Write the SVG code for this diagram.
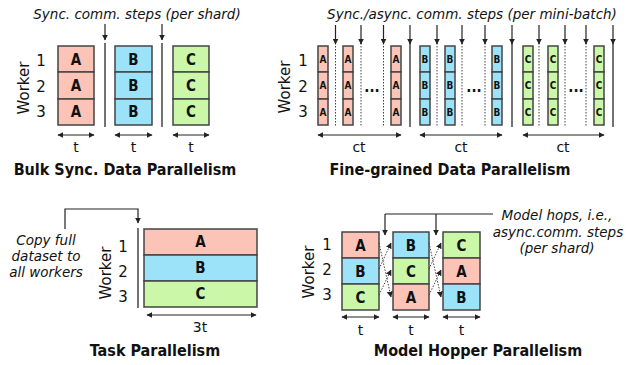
<svg xmlns="http://www.w3.org/2000/svg" width="626" height="365" viewBox="0 0 626 365">
<style>
text{font-family:"DejaVu Sans Condensed","DejaVu Sans",sans-serif;fill:#111}
.lab{font-family:"DejaVu Sans",sans-serif;font-size:13.5px;font-style:italic;text-anchor:middle}
.title{font-size:16px;font-weight:bold;text-anchor:middle}
.num{font-family:"DejaVu Sans",sans-serif;font-size:14px;text-anchor:middle}
.wk{font-family:"DejaVu Sans",sans-serif;font-size:15px;text-anchor:middle}
.cell{font-size:15px;font-weight:bold;text-anchor:middle}
.sm{font-size:10px;font-weight:bold;text-anchor:middle}
.a{fill:#fbc4b7;stroke:#444;stroke-width:1.5}
.b{fill:#9ce3fa;stroke:#444;stroke-width:1.5}
.c{fill:#cbf7a9;stroke:#444;stroke-width:1.5}
.ln{stroke:#444;stroke-width:1.5;fill:none}
.dot{stroke:#444;stroke-width:1;stroke-dasharray:1.5 1.5;fill:none}
.arr{stroke:#222;stroke-width:1.2;fill:none;marker-end:url(#ah)}
.dbl{stroke:#222;stroke-width:1.2;fill:none;marker-start:url(#ah2);marker-end:url(#ah)}
.darr{stroke:#444;stroke-width:1;stroke-dasharray:1.5 1.5;fill:none;marker-end:url(#ah)}
</style>
<defs>
<marker id="ah" viewBox="0 0 10 10" refX="9" refY="5" markerWidth="6" markerHeight="6" markerUnits="userSpaceOnUse" orient="auto"><path d="M0,0 L10,5 L0,10 z" fill="#222"/></marker>
<marker id="ah2" viewBox="0 0 10 10" refX="1" refY="5" markerWidth="6" markerHeight="6" markerUnits="userSpaceOnUse" orient="auto"><path d="M10,0 L0,5 L10,10 z" fill="#222"/></marker>
</defs>

<!-- Panel 1: Bulk Sync -->
<g id="bulk-sync">
<text class="lab" x="137" y="19">Sync. comm. steps (per shard)</text>
<text class="wk" x="24" y="88" transform="rotate(-90 24 88)" dy="5">Worker</text>
<text class="wk" x="41" y="66">1</text>
<text class="wk" x="41" y="92">2</text>
<text class="wk" x="41" y="117">3</text>
<rect class="a" x="58" y="46" width="36" height="26"/><rect class="a" x="58" y="72" width="36" height="27"/><rect class="a" x="58" y="99" width="36" height="26"/>
<text class="cell" x="76" y="65">A</text><text class="cell" x="76" y="91">A</text><text class="cell" x="76" y="117">A</text>
<rect class="b" x="115" y="46" width="37" height="26"/><rect class="b" x="115" y="72" width="37" height="27"/><rect class="b" x="115" y="99" width="37" height="26"/>
<text class="cell" x="133.5" y="65">B</text><text class="cell" x="133.5" y="91">B</text><text class="cell" x="133.5" y="117">B</text>
<rect class="c" x="173" y="46" width="36" height="26"/><rect class="c" x="173" y="72" width="36" height="27"/><rect class="c" x="173" y="99" width="36" height="26"/>
<text class="cell" x="191" y="65">C</text><text class="cell" x="191" y="91">C</text><text class="cell" x="191" y="117">C</text>
<line class="ln" x1="105" y1="43" x2="105" y2="127"/>
<line class="ln" x1="162" y1="43" x2="162" y2="127"/>
<text class="num" x="76" y="152">t</text><text class="num" x="133.5" y="152">t</text><text class="num" x="191" y="152">t</text>
<text class="title" x="125" y="175">Bulk Sync. Data Parallelism</text>
</g>

<!-- Panel 2: Fine-grained -->
<g id="fine-grained">
<text class="lab" x="472" y="19">Sync./async. comm. steps (per mini-batch)</text>
<text class="wk" x="285" y="87" transform="rotate(-90 285 87)" dy="5">Worker</text>
<text class="wk" x="303" y="66">1</text>
<text class="wk" x="303" y="92">2</text>
<text class="wk" x="303" y="117">3</text>

<g id="fg-A">
<rect class="a" x="318" y="46" width="10" height="26"/><rect class="a" x="318" y="72" width="10" height="27"/><rect class="a" x="318" y="99" width="10" height="26"/>
<rect class="a" x="343" y="46" width="10" height="26"/><rect class="a" x="343" y="72" width="10" height="27"/><rect class="a" x="343" y="99" width="10" height="26"/>
<rect class="a" x="391" y="46" width="10" height="26"/><rect class="a" x="391" y="72" width="10" height="27"/><rect class="a" x="391" y="99" width="10" height="26"/>
<text class="sm" x="323" y="63">A</text><text class="sm" x="323" y="89">A</text><text class="sm" x="323" y="116">A</text>
<text class="sm" x="348" y="63">A</text><text class="sm" x="348" y="89">A</text><text class="sm" x="348" y="116">A</text>
<text class="sm" x="396" y="63">A</text><text class="sm" x="396" y="89">A</text><text class="sm" x="396" y="116">A</text>
<text class="cell" x="372" y="92">...</text>
<line class="dot" x1="335.5" y1="43" x2="335.5" y2="127"/><line class="dot" x1="361" y1="43" x2="361" y2="127"/><line class="dot" x1="383.5" y1="43" x2="383.5" y2="127"/>
<line class="ln" x1="410" y1="43" x2="410" y2="127"/>
<text class="num" x="359" y="152">ct</text>
</g>
<g id="fg-B">
<rect class="b" x="420" y="46" width="10" height="26"/><rect class="b" x="420" y="72" width="10" height="27"/><rect class="b" x="420" y="99" width="10" height="26"/>
<rect class="b" x="445" y="46" width="10" height="26"/><rect class="b" x="445" y="72" width="10" height="27"/><rect class="b" x="445" y="99" width="10" height="26"/>
<rect class="b" x="492" y="46" width="10" height="26"/><rect class="b" x="492" y="72" width="10" height="27"/><rect class="b" x="492" y="99" width="10" height="26"/>
<text class="sm" x="425" y="63">B</text><text class="sm" x="425" y="89">B</text><text class="sm" x="425" y="116">B</text>
<text class="sm" x="450" y="63">B</text><text class="sm" x="450" y="89">B</text><text class="sm" x="450" y="116">B</text>
<text class="sm" x="497" y="63">B</text><text class="sm" x="497" y="89">B</text><text class="sm" x="497" y="116">B</text>
<text class="cell" x="474" y="92">...</text>
<line class="dot" x1="437" y1="43" x2="437" y2="127"/><line class="dot" x1="462" y1="43" x2="462" y2="127"/><line class="dot" x1="485" y1="43" x2="485" y2="127"/>
<line class="ln" x1="512" y1="43" x2="512" y2="127"/>
<text class="num" x="461" y="152">ct</text>
</g>
<g id="fg-C">
<rect class="c" x="523" y="46" width="10" height="26"/><rect class="c" x="523" y="72" width="10" height="27"/><rect class="c" x="523" y="99" width="10" height="26"/>
<rect class="c" x="548" y="46" width="10" height="26"/><rect class="c" x="548" y="72" width="10" height="27"/><rect class="c" x="548" y="99" width="10" height="26"/>
<rect class="c" x="594" y="46" width="10" height="26"/><rect class="c" x="594" y="72" width="10" height="27"/><rect class="c" x="594" y="99" width="10" height="26"/>
<text class="sm" x="528" y="63">C</text><text class="sm" x="528" y="89">C</text><text class="sm" x="528" y="116">C</text>
<text class="sm" x="553" y="63">C</text><text class="sm" x="553" y="89">C</text><text class="sm" x="553" y="116">C</text>
<text class="sm" x="599" y="63">C</text><text class="sm" x="599" y="89">C</text><text class="sm" x="599" y="116">C</text>
<text class="cell" x="576" y="92">...</text>
<line class="dot" x1="539" y1="43" x2="539" y2="127"/><line class="dot" x1="565" y1="43" x2="565" y2="127"/><line class="dot" x1="586" y1="43" x2="586" y2="127"/>
<line class="ln" x1="613" y1="43" x2="613" y2="127"/>
<text class="num" x="563" y="152">ct</text>
</g>
<text class="title" x="450" y="175">Fine-grained Data Parallelism</text>
</g>

<!-- Panel 3: Task -->
<g id="task">
<text class="lab" x="46" y="245">Copy full</text>
<text class="lab" x="46" y="261">dataset to</text>
<text class="lab" x="46" y="277">all workers</text>
<text class="wk" x="106" y="273" transform="rotate(-90 106 273)" dy="5">Worker</text>
<text class="wk" x="123" y="252">1</text>
<text class="wk" x="123" y="277">2</text>
<text class="wk" x="123" y="302">3</text>
<line class="ln" x1="138" y1="228" x2="138" y2="308"/>
<rect class="a" x="144" y="229" width="113" height="26"/>
<rect class="b" x="144" y="255" width="113" height="26"/>
<rect class="c" x="144" y="281" width="113" height="26"/>
<text class="cell" x="200.5" y="247">A</text><text class="cell" x="200.5" y="273">B</text><text class="cell" x="200.5" y="299">C</text>
<text class="num" x="200" y="332">3t</text>
<text class="title" x="155" y="356">Task Parallelism</text>
</g>

<!-- Panel 4: Model Hopper -->
<g id="model-hopper">
<text class="lab" x="557" y="220">Model hops, i.e.,</text>
<text class="lab" x="558" y="237">async.comm. steps</text>
<text class="lab" x="557" y="253">(per shard)</text>
<text class="wk" x="309" y="272" transform="rotate(-90 309 272)" dy="5">Worker</text>
<text class="wk" x="327" y="250">1</text>
<text class="wk" x="327" y="275">2</text>
<text class="wk" x="327" y="300">3</text>
<rect class="a" x="342" y="232" width="37" height="26"/><rect class="b" x="342" y="258" width="37" height="26"/><rect class="c" x="342" y="284" width="37" height="26"/>
<text class="cell" x="360.5" y="251">A</text><text class="cell" x="360.5" y="277">B</text><text class="cell" x="360.5" y="303">C</text>
<rect class="b" x="393" y="232" width="36" height="26"/><rect class="c" x="393" y="258" width="36" height="26"/><rect class="a" x="393" y="284" width="36" height="26"/>
<text class="cell" x="411" y="251">B</text><text class="cell" x="411" y="277">C</text><text class="cell" x="411" y="303">A</text>
<rect class="c" x="443" y="232" width="37" height="26"/><rect class="a" x="443" y="258" width="37" height="26"/><rect class="b" x="443" y="284" width="37" height="26"/>
<text class="cell" x="461.5" y="251">C</text><text class="cell" x="461.5" y="277">A</text><text class="cell" x="461.5" y="303">B</text>
<text class="num" x="360.5" y="335">t</text><text class="num" x="411" y="335">t</text><text class="num" x="461.5" y="335">t</text>
<text class="title" x="478" y="356">Model Hopper Parallelism</text>
</g>

<!-- Connectors -->
<g id="connectors">
<line class="arr" x1="105" y1="24" x2="105" y2="40"/>
<line class="arr" x1="162" y1="24" x2="162" y2="40"/>
<line class="dbl" x1="58" y1="135" x2="94" y2="135"/>
<line class="dbl" x1="115" y1="135" x2="152" y2="135"/>
<line class="dbl" x1="173" y1="135" x2="209" y2="135"/>

<line class="arr" x1="335.5" y1="25" x2="335.5" y2="44"/>
<line class="arr" x1="361" y1="25" x2="361" y2="44"/>
<line class="arr" x1="383.5" y1="25" x2="383.5" y2="44"/>
<line class="arr" x1="410" y1="25" x2="410" y2="44"/>
<line class="arr" x1="437" y1="25" x2="437" y2="44"/>
<line class="arr" x1="462" y1="25" x2="462" y2="44"/>
<line class="arr" x1="485" y1="25" x2="485" y2="44"/>
<line class="arr" x1="512" y1="25" x2="512" y2="44"/>
<line class="arr" x1="539" y1="25" x2="539" y2="44"/>
<line class="arr" x1="565" y1="25" x2="565" y2="44"/>
<line class="arr" x1="586" y1="25" x2="586" y2="44"/>
<line class="arr" x1="613" y1="25" x2="613" y2="44"/>
<line class="dbl" x1="318" y1="135" x2="401" y2="135"/>
<line class="dbl" x1="420" y1="135" x2="502" y2="135"/>
<line class="dbl" x1="523" y1="135" x2="604" y2="135"/>

<path class="arr" d="M65,229 V209 H138 V223"/>
<line class="dbl" x1="147" y1="315" x2="256" y2="315"/>

<path class="ln" d="M493,214 H385" style="stroke:#222;stroke-width:1.2"/>
<line class="arr" x1="385" y1="214" x2="385" y2="235"/>
<line class="arr" x1="436" y1="214" x2="436" y2="235"/>
<line class="darr" x1="379" y1="243" x2="391" y2="297"/>
<line class="darr" x1="379" y1="269" x2="391" y2="243"/>
<line class="darr" x1="379" y1="295" x2="391" y2="270"/>
<line class="darr" x1="429" y1="243" x2="441" y2="297"/>
<line class="darr" x1="429" y1="269" x2="441" y2="243"/>
<line class="darr" x1="429" y1="295" x2="441" y2="270"/>
<line class="dbl" x1="342" y1="317" x2="379" y2="317"/>
<line class="dbl" x1="393" y1="317" x2="429" y2="317"/>
<line class="dbl" x1="443" y1="317" x2="480" y2="317"/>
</g>
</svg>
